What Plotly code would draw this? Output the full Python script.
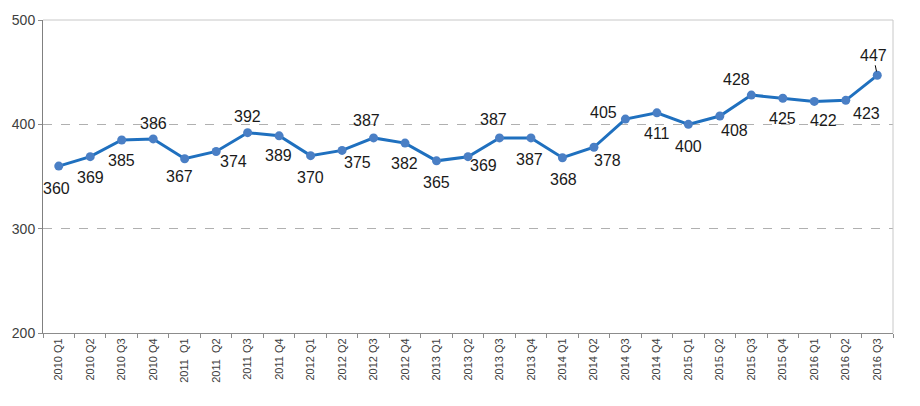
import plotly.graph_objects as go

categories = ["2010 Q1", "2010 Q2", "2010 Q3", "2010 Q4",
              "2011  Q1", "2011  Q2", "2011 Q3", "2011 Q4",
              "2012 Q1", "2012 Q2", "2012 Q3", "2012 Q4",
              "2013 Q1", "2013 Q2", "2013 Q3", "2013 Q4",
              "2014 Q1", "2014 Q2", "2014 Q3", "2014 Q4",
              "2015 Q1", "2015 Q2", "2015 Q3", "2015 Q4",
              "2016 Q1", "2016 Q2", "2016 Q3"]
values = [360, 369, 385, 386, 367, 374, 392, 389, 370, 375, 387, 382,
          365, 369, 387, 387, 368, 378, 405, 411, 400, 408, 428, 425,
          422, 423, 447]
y_ticks = [200, 300, 400, 500]

# label offsets in pixels (dx, dy); dy positive = downward
label_offsets = [(-2, 22), (0, 21), (0, 21), (0, -15), (-5, 18), (17, 10),
                 (0, -16), (-1, 20), (0, 22), (15, 12), (-7, -17), (-1, 20),
                 (0, 22), (15, 9), (-6, -18), (-1, 22), (1, 22), (14, 13),
                 (-22, -7), (0, 21), (0, 22), (15, 15), (-15, -16), (0, 20),
                 (9, 19), (21, 13), (-4, -20)]

label_font = dict(family="Liberation Sans, Arial", size=16, color="#1a1a1a")

fig = go.Figure()
fig.add_trace(go.Scatter(
    x=categories, y=values, mode="lines+markers",
    line=dict(color="#1F70BF", width=3),
    marker=dict(color="#4A7FC5", size=9),
    hoverinfo="x+y", showlegend=False,
))

annotations = []
for i, (c, v) in enumerate(zip(categories, values)):
    dx, dy = label_offsets[i]
    if i == len(values) - 1:
        annotations.append(dict(
            x=c, y=v, xref="x", yref="y", text=str(v),
            showarrow=True, arrowhead=0, arrowwidth=1, arrowcolor="#000000",
            ax=dx, ay=dy, standoff=4, font=label_font,
        ))
    else:
        annotations.append(dict(
            x=c, y=v, xref="x", yref="y", text=str(v), showarrow=False,
            xshift=dx, yshift=-dy, font=label_font,
        ))

fig.update_layout(
    width=920, height=406,
    margin=dict(l=43, r=27, t=15, b=73),
    paper_bgcolor="white", plot_bgcolor="white",
    font=dict(family="Liberation Sans, Arial", color="#404040"),
    annotations=annotations,
    shapes=[
        dict(type="line", xref="paper", yref="paper", x0=0, x1=1, y0=1, y1=1,
             line=dict(color="#C8C8C8", width=1)),
        dict(type="line", xref="paper", yref="paper", x0=1, x1=1, y0=0, y1=1,
             line=dict(color="#C8C8C8", width=1)),
    ],
)
fig.update_xaxes(
    type="category", range=[-0.5, len(categories) - 0.5],
    tickangle=-90, tickson="boundaries",
    ticks="outside", ticklen=4, tickcolor="#8C8C8C",
    showline=True, linecolor="#8C8C8C", linewidth=1,
    showgrid=False, tickfont=dict(size=11, color="#404040"),
)
fig.update_yaxes(
    range=[200, 500], tickvals=y_ticks, ticks="outside", ticklen=4,
    tickcolor="#8C8C8C", showline=True, linecolor="#808080", linewidth=1,
    showgrid=True, gridcolor="#B0B0B0", griddash="dash", gridwidth=1,
    zeroline=False, tickfont=dict(size=14, color="#404040"),
)

fig.write_html("out.html")
